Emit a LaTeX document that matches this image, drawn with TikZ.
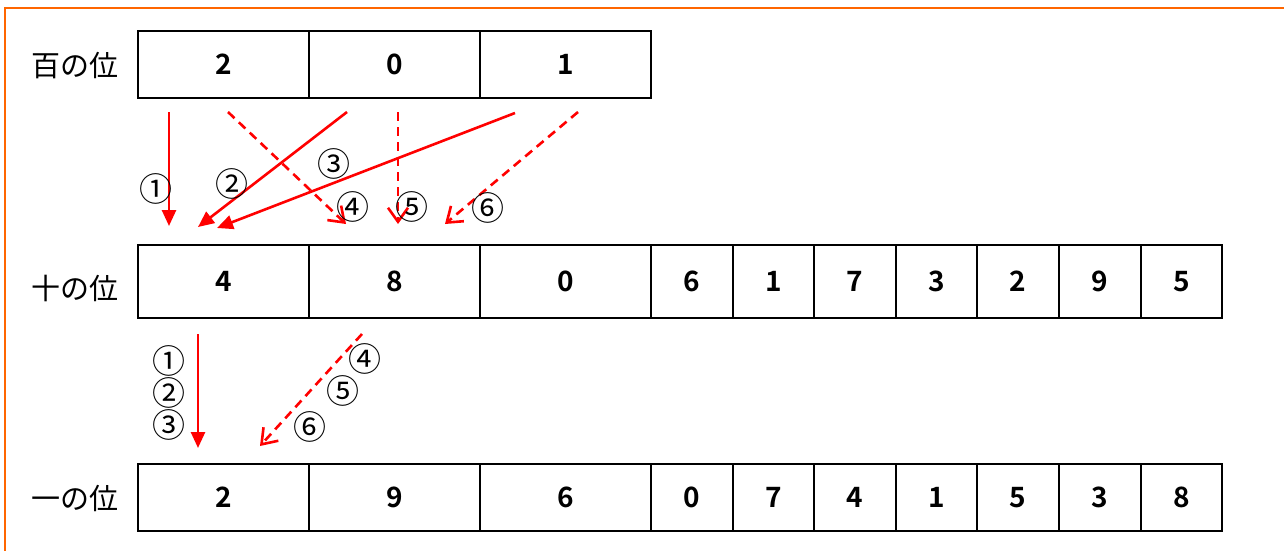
\documentclass[tikz,border=0pt]{standalone}
\usepackage{fontspec}
\setmainfont{Noto Sans CJK JP}
\newfontfamily\jpfont{Noto Sans CJK JP}
\newfontfamily\digitfont{Noto Sans CJK JP Bold}
\usetikzlibrary{arrows.meta}
\definecolor{frameorange}{HTML}{FF6600}
\definecolor{arrowred}{HTML}{FF0000}
\begin{document}
\begin{tikzpicture}[x=1pt,y=-1pt,
  cell/.style={draw=black,line width=2.4pt,inner sep=0pt,outer sep=0pt,
    font=\digitfont\fontsize{28}{28}\selectfont},
  rowlabel/.style={inner sep=0pt,font=\jpfont\fontsize{29}{29}\selectfont},
  circ/.style={inner sep=0pt,text height=26pt,text depth=1.2pt,
    font=\jpfont\fontsize{33}{33}\selectfont},
  solidarrow/.style={draw=arrowred,line width=2.6pt,-{Triangle[length=16pt,width=14pt]}},
  dasharrow/.style={draw=arrowred,line width=2.6pt,dash pattern=on 9pt off 6pt,
    -{Straight Barb[length=14pt,width=20pt,line width=2.6pt]}},
]
\useasboundingbox (0,0) rectangle (1284,550);
\draw[frameorange,line width=1.8pt] (1290,8) -- (5,8) -- (5,556);

% row labels
\node[rowlabel] (lh) at (74.5,66) {百の位};
\node[rowlabel] (lt) at (74.5,288) {十の位};
\node[rowlabel] (lo) at (74.5,498) {一の位};

% hundreds row
\foreach \n/\cx/\w/\d in {1/223.5/171/2,2/394.5/171/0,3/565.5/171/1}
  \node[cell,minimum width=\w pt,minimum height=67pt] (h\n) at (\cx,64.5) {\d};

% tens row
\foreach \n/\cx/\w/\d in {1/223.5/171/4,2/394.5/171/8,3/565.5/171/0,4/692/82/6,5/773.5/81/1,6/855/82/7,7/936.5/81/3,8/1018/82/2,9/1100/82/9,10/1181.5/81/5}
  \node[cell,minimum width=\w pt,minimum height=73pt] (t\n) at (\cx,281.5) {\d};

% ones row
\foreach \n/\cx/\w/\d in {1/223.5/171/2,2/394.5/171/9,3/565.5/171/6,4/692/82/0,5/773.5/81/7,6/855/82/4,7/936.5/81/1,8/1018/82/5,9/1100/82/3,10/1181.5/81/8}
  \node[cell,minimum width=\w pt,minimum height=67pt] (o\n) at (\cx,497.5) {\d};

% upper arrow end points
\coordinate (a1s) at (169,112);  \coordinate (a1e) at (169,226);
\coordinate (a2s) at (347,112);  \coordinate (a2e) at (198,227);
\coordinate (a3s) at (515,113);  \coordinate (a3e) at (217,228);
\coordinate (a4s) at (228,112);  \coordinate (a4e) at (346,224);
\coordinate (a5s) at (398,112);  \coordinate (a5e) at (398,224);
\coordinate (a6s) at (578,112);  \coordinate (a6e) at (445,224);

\draw[solidarrow] (a1s) -- (a1e);
\draw[solidarrow] (a2s) -- (a2e);
\draw[solidarrow] (a3s) -- (a3e);
\draw[dasharrow] (a4s) -- (a4e);
\draw[dasharrow] (a5s) -- (a5e);
\draw[dasharrow] (a6s) -- (a6e);

\node[circ] (c1) at (156,189) {①};
\node[circ] (c2) at (232,184) {②};
\node[circ] (c3) at (334,164) {③};
\node[circ] (c4) at (353,207) {④};
\node[circ] (c5) at (412,207) {⑤};
\node[circ] (c6) at (488,208) {⑥};

% lower arrows
\coordinate (b1s) at (198,334);  \coordinate (b1e) at (198,448);
\coordinate (b2s) at (362,334);  \coordinate (b2e) at (260,446);
\draw[solidarrow] (b1s) -- (b1e);
\draw[dasharrow] (b2s) -- (b2e);

\node[circ] (d1) at (169,361) {①};
\node[circ] (d2) at (169,393) {②};
\node[circ] (d3) at (169,425) {③};
\node[circ] (d4) at (365,359) {④};
\node[circ] (d5) at (343,391) {⑤};
\node[circ] (d6) at (310,427) {⑥};
\end{tikzpicture}
\end{document}
